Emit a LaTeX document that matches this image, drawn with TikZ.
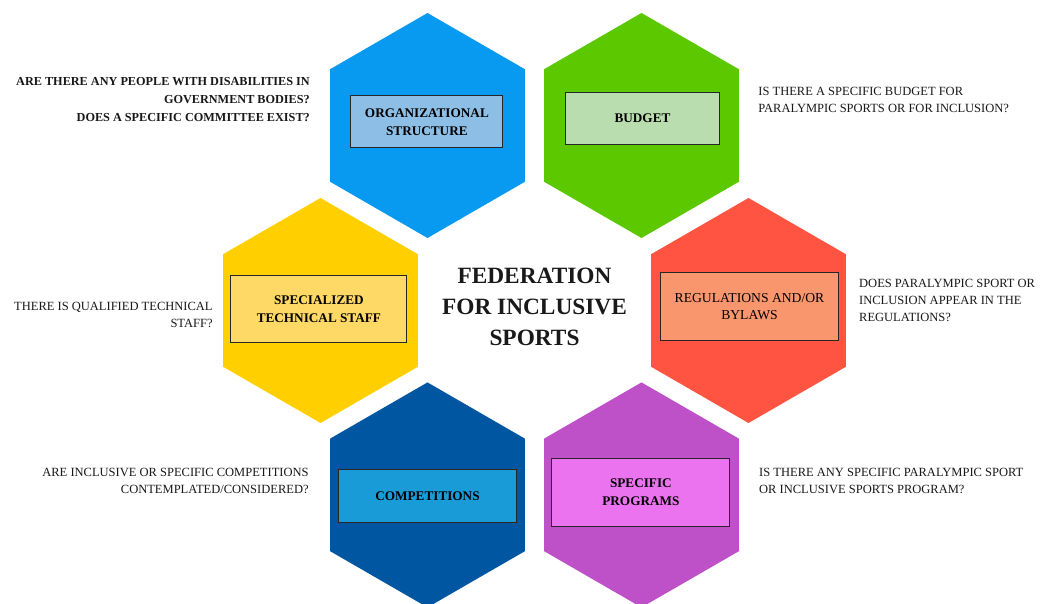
\documentclass[tikz,border=0pt]{standalone}
\usepackage{fontspec}
\setmainfont{Liberation Serif}
\usepackage{xcolor}
\usepackage{tikz}

% cell colours and the lighter fills of their tags
\definecolor{orgblue}{RGB}{8,153,240}
\definecolor{budgetgreen}{RGB}{92,200,0}
\definecolor{staffyellow}{RGB}{255,207,0}
\definecolor{rulered}{RGB}{255,84,66}
\definecolor{compblue}{RGB}{0,86,160}
\definecolor{progpurple}{RGB}{190,80,200}
\definecolor{orgbox}{RGB}{141,190,230}
\definecolor{budgetbox}{RGB}{186,221,176}
\definecolor{staffbox}{RGB}{255,217,102}
\definecolor{rulebox}{RGB}{250,150,110}
\definecolor{compbox}{RGB}{25,155,215}
\definecolor{progbox}{RGB}{236,115,240}

\begin{document}
\begin{tikzpicture}[x=1cm, y=1cm,
  tag/.style={draw=black!85, line width=0.8pt, inner sep=0pt, align=center,
    font=\fontsize{9.4}{12.8}\selectfont\bfseries},
  ask/.style={inner sep=0pt, text=black!90, font=\fontsize{8.9}{12.1}\selectfont}]
  \def\R{2.8125}
  \useasboundingbox (-13.3625,-7.3125) rectangle (12.6875,7.7625);
  \fill[white] (-13.3625,-7.3125) rectangle (12.6875,7.7625);
  \clip (-13.3625,-7.3125) rectangle (12.6875,7.7625);
  % ================================================================
  % hexagon ring around the centre cell
  % ================================================================
  \foreach \cx/\cy/\c in {-2.675/4.625/orgblue, 2.675/4.625/budgetgreen,
                          -5.35/0/staffyellow, 5.35/0/rulered,
                          -2.675/-4.61/compblue, 2.675/-4.61/progpurple} {
    \fill[\c, shift={(\cx,\cy)}] (30:\R) -- (90:\R) -- (150:\R) -- (210:\R) -- (270:\R) -- (330:\R) -- cycle;
  }
  % centre title ---------------------------------------------------
  \node[align=center, text=black!90, font=\fontsize{16.6}{22}\selectfont\bfseries] (title) at (0,0.1) {FEDERATION\\FOR INCLUSIVE\\SPORTS};
  % tags -----------------------------------------------------------
  \node[tag, fill=orgbox, minimum width=3.8cm, minimum height=1.29cm] (org) at (-2.69,4.72) {ORGANIZATIONAL\\STRUCTURE};
  \node[tag, fill=budgetbox, minimum width=3.83cm, minimum height=1.28cm] (budget) at (2.7,4.8) {BUDGET};
  \node[tag, fill=staffbox, minimum width=4.4cm, minimum height=1.68cm] (staff) at (-5.39,0.03) {SPECIALIZED\\TECHNICAL STAFF};
  \node[tag, fill=rulebox, font=\fontsize{9.7}{12.1}\selectfont, minimum width=4.43cm, minimum height=1.7cm] (rules) at (5.375,0.09) {REGULATIONS AND/OR\\BYLAWS};
  \node[tag, fill=compbox, minimum width=4.43cm, minimum height=1.33cm] (comp) at (-2.675,-4.63) {COMPETITIONS};
  \node[tag, fill=progbox, minimum width=4.45cm, minimum height=1.7cm] (prog) at (2.66,-4.54) {SPECIFIC\\PROGRAMS};
  % questions ------------------------------------------------------
  \node[ask, anchor=east, align=right, font=\fontsize{8.7}{12.8}\selectfont\bfseries] (askorg) at (-5.61,5.275) {ARE THERE ANY PEOPLE WITH DISABILITIES IN\\GOVERNMENT BODIES?\\DOES A SPECIFIC COMMITTEE EXIST?};
  \node[ask, anchor=west, align=left] (askbudget) at (5.59,5.26) {IS THERE A SPECIFIC BUDGET FOR\\PARALYMPIC SPORTS OR FOR INCLUSION?};
  \node[ask, anchor=east, align=right] (askstaff) at (-8.04,-0.11) {THERE IS QUALIFIED TECHNICAL\\STAFF?};
  \node[ask, anchor=west, align=left] (askrules) at (8.11,0.25) {DOES PARALYMPIC SPORT OR\\INCLUSION APPEAR IN THE\\REGULATIONS?};
  \node[ask, anchor=east, align=right] (askcomp) at (-5.64,-4.25) {ARE INCLUSIVE OR SPECIFIC COMPETITIONS\\CONTEMPLATED/CONSIDERED?};
  \node[ask, anchor=west, align=left] (askprog) at (5.61,-4.25) {IS THERE ANY SPECIFIC PARALYMPIC SPORT\\OR INCLUSIVE SPORTS PROGRAM?};
\end{tikzpicture}
\end{document}
